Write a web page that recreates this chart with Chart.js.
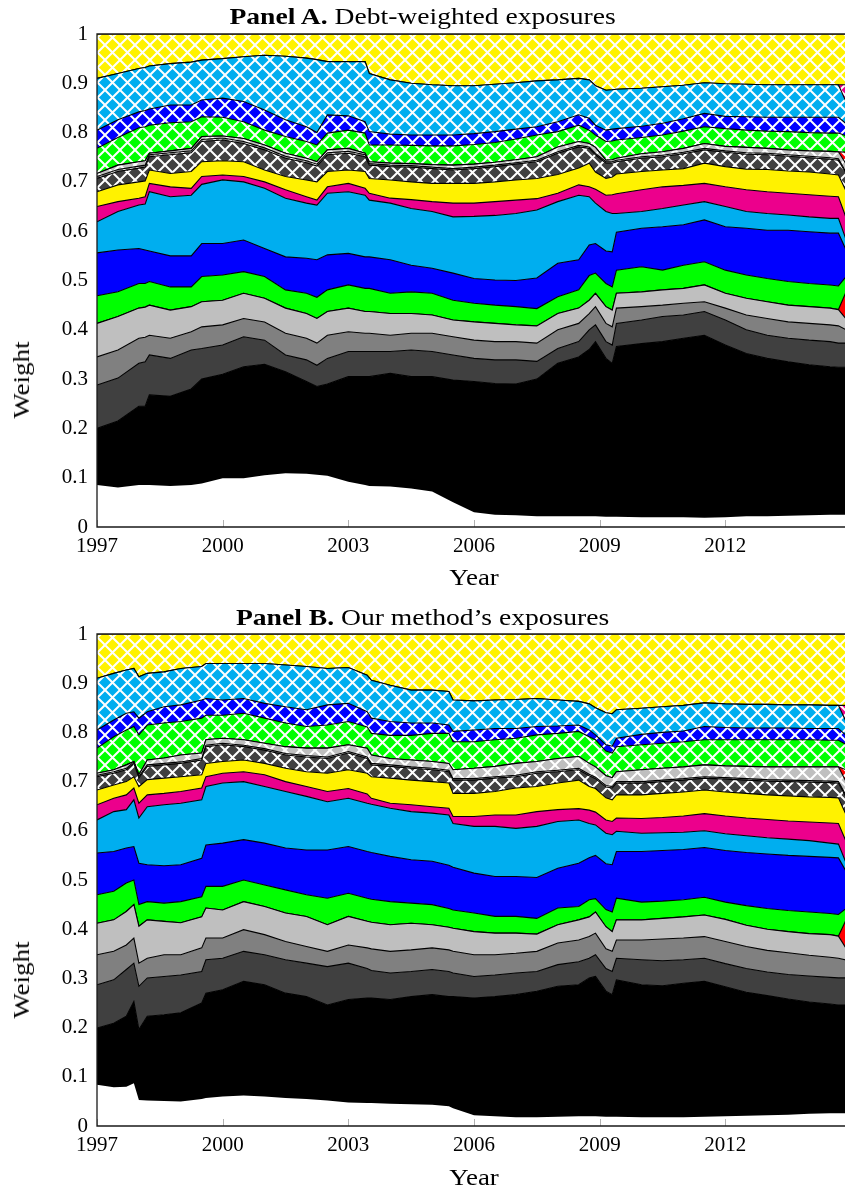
<!DOCTYPE html>
<html>
<head>
<meta charset="utf-8">
<script src="https://cdn.jsdelivr.net/npm/chart.js@4.4.1/dist/chart.umd.min.js"></script>
<style>
  html, body { margin:0; padding:0; background:#fff; width:845px; height:1192px; overflow:hidden; position:relative; font-family:"Liberation Serif", "DejaVu Serif", serif; color:#000; }
  canvas { position:absolute; left:0; }
  .ttl { position:absolute; left:0; width:845px; text-align:center; font-size:23px; line-height:1; white-space:nowrap; transform:scaleX(1.2); transform-origin:422px 50%; }
  .xl { position:absolute; left:97px; width:754px; text-align:center; font-size:23px; line-height:1; transform:scaleX(1.17); }
  .yl { position:absolute; width:90px; height:24px; text-align:center; font-size:23px; line-height:24px; transform:rotate(-90deg) scaleX(1.17); }
</style>
</head>
<body>
<canvas id="panelA" width="852" height="596" style="top:0"></canvas>
<canvas id="panelB" width="852" height="592" style="top:600px"></canvas>
<div class="ttl" style="top:5px"><b>Panel A.</b> Debt-weighted exposures</div>
<div class="xl" style="top:566px">Year</div>
<div class="yl" style="left:-23px; top:368px">Weight</div>
<div class="ttl" style="top:606px"><b>Panel B.</b> Our method’s exposures</div>
<div class="xl" style="top:1166px">Year</div>
<div class="yl" style="left:-23px; top:968px">Weight</div>
<script>
// Axis ticks
const yearTicks = [1997, 2000, 2003, 2006, 2009, 2012];
const weightTicks = [0, 0.1, 0.2, 0.3, 0.4, 0.5, 0.6, 0.7, 0.8, 0.9, 1];
const weightLabels = ['0', '0.1', '0.2', '0.3', '0.4', '0.5', '0.6', '0.7', '0.8', '0.9', '1'];

// ---- Panel A: debt-weighted exposures (upper edge of each cumulative band) ----
const yearsA = [1997.0,1997.5,1998.0,1998.15,1998.25,1998.75,1999.25,1999.5,2000.0,2000.5,2001.0,2001.5,2002.0,2002.25,2002.5,2003.0,2003.4,2003.5,2004.0,2004.5,2005.0,2005.5,2006.0,2006.5,2007.0,2007.5,2008.0,2008.5,2008.75,2008.9,2009.15,2009.3,2009.4,2010.0,2010.5,2011.0,2011.5,2012.0,2012.5,2013.0,2013.5,2014.0,2014.5,2014.7,2015.0];
const whiteA = [0.085,0.080,0.085,0.085,0.085,0.083,0.085,0.088,0.099,0.099,0.105,0.109,0.108,0.106,0.104,0.092,0.085,0.083,0.082,0.078,0.072,0.050,0.030,0.025,0.024,0.022,0.022,0.022,0.022,0.022,0.021,0.021,0.021,0.020,0.020,0.020,0.019,0.020,0.022,0.022,0.023,0.024,0.025,0.025,0.025];
const blackA = [0.200,0.215,0.245,0.245,0.268,0.265,0.280,0.300,0.310,0.325,0.330,0.315,0.295,0.285,0.290,0.305,0.305,0.305,0.312,0.305,0.305,0.298,0.295,0.291,0.290,0.300,0.332,0.345,0.360,0.376,0.342,0.332,0.366,0.372,0.376,0.383,0.389,0.369,0.352,0.342,0.335,0.329,0.325,0.324,0.324];
const dkgrayA = [0.288,0.302,0.332,0.335,0.349,0.342,0.359,0.362,0.369,0.386,0.379,0.349,0.339,0.328,0.342,0.356,0.356,0.356,0.356,0.359,0.356,0.349,0.342,0.339,0.339,0.336,0.362,0.376,0.400,0.410,0.376,0.369,0.413,0.420,0.427,0.430,0.437,0.420,0.400,0.389,0.383,0.379,0.376,0.373,0.373];
const grayA = [0.345,0.359,0.383,0.385,0.389,0.383,0.396,0.406,0.410,0.423,0.416,0.393,0.383,0.373,0.389,0.396,0.393,0.393,0.389,0.393,0.393,0.386,0.379,0.376,0.376,0.373,0.400,0.413,0.433,0.447,0.413,0.406,0.444,0.447,0.450,0.454,0.457,0.444,0.430,0.423,0.416,0.413,0.410,0.408,0.395];
const ltgrayA = [0.413,0.427,0.444,0.446,0.450,0.440,0.447,0.457,0.460,0.474,0.464,0.444,0.433,0.423,0.437,0.444,0.437,0.437,0.433,0.433,0.430,0.420,0.416,0.413,0.410,0.408,0.433,0.444,0.460,0.474,0.447,0.440,0.474,0.477,0.481,0.484,0.491,0.474,0.464,0.457,0.450,0.447,0.444,0.441,0.410];
const redA = [0.413,0.427,0.444,0.446,0.450,0.440,0.447,0.457,0.460,0.474,0.464,0.444,0.433,0.423,0.437,0.444,0.437,0.437,0.433,0.433,0.430,0.420,0.416,0.413,0.410,0.408,0.433,0.444,0.460,0.474,0.447,0.440,0.474,0.477,0.481,0.484,0.491,0.474,0.464,0.457,0.450,0.447,0.444,0.441,0.500];
const greenA = [0.469,0.477,0.494,0.494,0.498,0.487,0.487,0.508,0.511,0.518,0.508,0.481,0.474,0.466,0.481,0.491,0.484,0.484,0.474,0.477,0.474,0.460,0.454,0.450,0.447,0.443,0.467,0.481,0.510,0.515,0.494,0.487,0.521,0.528,0.521,0.531,0.538,0.521,0.511,0.504,0.498,0.494,0.491,0.489,0.520];
const blueA = [0.556,0.562,0.565,0.562,0.560,0.550,0.550,0.575,0.575,0.582,0.565,0.548,0.545,0.542,0.552,0.555,0.548,0.548,0.542,0.531,0.525,0.515,0.504,0.501,0.500,0.505,0.535,0.542,0.572,0.575,0.560,0.558,0.598,0.606,0.609,0.613,0.623,0.609,0.606,0.602,0.602,0.599,0.596,0.596,0.540];
const cyanA = [0.619,0.640,0.653,0.655,0.680,0.670,0.673,0.695,0.704,0.700,0.687,0.667,0.657,0.653,0.677,0.680,0.673,0.663,0.657,0.646,0.640,0.629,0.630,0.632,0.636,0.643,0.660,0.673,0.670,0.657,0.640,0.636,0.636,0.640,0.646,0.653,0.660,0.650,0.640,0.636,0.633,0.629,0.626,0.626,0.555];
const magentaA = [0.650,0.660,0.667,0.670,0.697,0.690,0.687,0.711,0.714,0.711,0.700,0.684,0.670,0.663,0.690,0.697,0.687,0.677,0.667,0.664,0.660,0.657,0.657,0.660,0.663,0.666,0.677,0.694,0.690,0.685,0.673,0.674,0.676,0.684,0.690,0.693,0.697,0.690,0.684,0.680,0.677,0.674,0.671,0.670,0.600];
const yellowA = [0.680,0.694,0.700,0.702,0.724,0.717,0.721,0.741,0.743,0.741,0.724,0.711,0.704,0.700,0.721,0.724,0.721,0.707,0.704,0.700,0.697,0.697,0.697,0.700,0.704,0.707,0.715,0.728,0.738,0.720,0.707,0.710,0.716,0.721,0.724,0.727,0.738,0.731,0.726,0.725,0.722,0.720,0.716,0.714,0.660];
const dkgrayHA = [0.707,0.721,0.728,0.730,0.751,0.755,0.759,0.782,0.785,0.778,0.765,0.748,0.739,0.732,0.755,0.758,0.751,0.734,0.731,0.730,0.727,0.724,0.727,0.731,0.736,0.741,0.758,0.771,0.768,0.755,0.738,0.738,0.741,0.748,0.751,0.757,0.765,0.760,0.756,0.755,0.752,0.749,0.746,0.744,0.700];
const grayHA = [0.711,0.725,0.732,0.734,0.755,0.759,0.763,0.786,0.789,0.782,0.769,0.752,0.743,0.736,0.759,0.762,0.755,0.737,0.734,0.733,0.730,0.727,0.730,0.734,0.739,0.744,0.761,0.774,0.771,0.758,0.741,0.741,0.744,0.751,0.754,0.760,0.768,0.763,0.759,0.758,0.755,0.752,0.749,0.747,0.702];
const ltgrayHA = [0.717,0.734,0.741,0.743,0.758,0.763,0.768,0.792,0.793,0.788,0.775,0.758,0.748,0.741,0.765,0.768,0.758,0.741,0.738,0.737,0.735,0.734,0.736,0.740,0.745,0.751,0.771,0.782,0.778,0.770,0.744,0.745,0.748,0.757,0.761,0.768,0.778,0.772,0.770,0.768,0.765,0.763,0.762,0.761,0.720];
const redHA = [0.717,0.734,0.741,0.743,0.758,0.763,0.768,0.792,0.793,0.788,0.775,0.758,0.748,0.741,0.765,0.768,0.758,0.741,0.738,0.737,0.735,0.734,0.736,0.740,0.745,0.751,0.771,0.782,0.778,0.770,0.744,0.745,0.748,0.757,0.761,0.768,0.778,0.772,0.770,0.768,0.765,0.763,0.762,0.761,0.760];
const greenHA = [0.768,0.790,0.810,0.812,0.815,0.820,0.822,0.832,0.831,0.822,0.805,0.792,0.782,0.775,0.799,0.805,0.799,0.775,0.775,0.774,0.773,0.773,0.776,0.780,0.787,0.795,0.802,0.815,0.805,0.795,0.782,0.783,0.785,0.790,0.795,0.803,0.812,0.808,0.805,0.803,0.802,0.800,0.799,0.799,0.790];
const blueHA = [0.805,0.826,0.842,0.845,0.848,0.856,0.856,0.866,0.870,0.863,0.846,0.826,0.812,0.800,0.836,0.834,0.822,0.802,0.797,0.795,0.795,0.795,0.798,0.802,0.807,0.812,0.822,0.836,0.829,0.815,0.805,0.807,0.808,0.813,0.819,0.828,0.839,0.833,0.832,0.831,0.831,0.831,0.831,0.831,0.810];
const cyanHA = [0.910,0.920,0.930,0.932,0.935,0.940,0.943,0.947,0.950,0.954,0.957,0.955,0.951,0.948,0.944,0.944,0.944,0.920,0.907,0.900,0.897,0.895,0.895,0.898,0.901,0.905,0.907,0.910,0.907,0.895,0.886,0.887,0.888,0.890,0.893,0.896,0.901,0.899,0.898,0.897,0.897,0.897,0.897,0.897,0.840];
const magentaHA = [0.910,0.920,0.930,0.932,0.935,0.940,0.943,0.947,0.950,0.954,0.957,0.955,0.951,0.948,0.944,0.944,0.944,0.920,0.907,0.900,0.897,0.895,0.895,0.898,0.901,0.905,0.907,0.910,0.907,0.895,0.886,0.887,0.888,0.890,0.893,0.896,0.901,0.899,0.898,0.897,0.897,0.897,0.897,0.897,0.897];
const yellowHA = [1,1,1,1,1,1,1,1,1,1,1,1,1,1,1,1,1,1,1,1,1,1,1,1,1,1,1,1,1,1,1,1,1,1,1,1,1,1,1,1,1,1,1,1,1];

// ---- Panel B: our method's exposures (upper edge of each cumulative band) ----
const yearsB = [1997.0,1997.4,1997.7,1997.88,1998.0,1998.2,1998.6,1999.0,1999.5,1999.6,2000.0,2000.5,2001.0,2001.5,2002.0,2002.5,2003.0,2003.45,2003.55,2004.0,2004.5,2005.0,2005.4,2005.5,2006.0,2006.5,2007.0,2007.5,2008.0,2008.5,2008.75,2008.9,2009.15,2009.3,2009.4,2010.0,2010.5,2011.0,2011.5,2012.0,2012.5,2013.0,2013.5,2014.0,2014.5,2014.7,2015.0];
const whiteB = [0.084,0.079,0.080,0.087,0.053,0.052,0.051,0.050,0.055,0.057,0.060,0.062,0.060,0.057,0.055,0.052,0.048,0.047,0.047,0.045,0.044,0.043,0.040,0.036,0.022,0.020,0.018,0.018,0.019,0.020,0.020,0.020,0.019,0.019,0.019,0.018,0.018,0.018,0.019,0.020,0.021,0.022,0.023,0.025,0.026,0.026,0.026];
const blackB = [0.199,0.209,0.223,0.253,0.196,0.223,0.226,0.230,0.250,0.270,0.277,0.294,0.287,0.270,0.263,0.246,0.257,0.260,0.260,0.257,0.263,0.267,0.263,0.263,0.260,0.263,0.267,0.274,0.284,0.287,0.301,0.304,0.274,0.267,0.297,0.287,0.285,0.290,0.294,0.283,0.272,0.265,0.258,0.252,0.248,0.246,0.246];
const dkgrayB = [0.287,0.297,0.318,0.331,0.284,0.301,0.304,0.307,0.314,0.338,0.341,0.355,0.348,0.338,0.331,0.324,0.331,0.320,0.316,0.311,0.314,0.318,0.314,0.311,0.304,0.307,0.311,0.314,0.328,0.334,0.341,0.348,0.320,0.314,0.341,0.338,0.336,0.338,0.341,0.330,0.320,0.313,0.308,0.305,0.302,0.301,0.301];
const grayB = [0.348,0.355,0.368,0.382,0.331,0.341,0.348,0.348,0.362,0.382,0.382,0.399,0.389,0.375,0.365,0.355,0.368,0.362,0.360,0.355,0.358,0.362,0.358,0.355,0.348,0.348,0.351,0.355,0.372,0.378,0.385,0.392,0.360,0.355,0.378,0.378,0.380,0.382,0.385,0.375,0.365,0.357,0.352,0.347,0.343,0.341,0.335];
const ltgrayB = [0.412,0.419,0.436,0.450,0.406,0.419,0.416,0.413,0.425,0.443,0.439,0.456,0.446,0.433,0.426,0.409,0.426,0.416,0.414,0.409,0.412,0.409,0.404,0.402,0.395,0.392,0.392,0.390,0.409,0.419,0.425,0.435,0.405,0.395,0.419,0.419,0.422,0.425,0.429,0.420,0.408,0.400,0.395,0.391,0.389,0.386,0.345];
const redB = [0.412,0.419,0.436,0.450,0.406,0.419,0.416,0.413,0.425,0.443,0.439,0.456,0.446,0.433,0.426,0.409,0.426,0.416,0.414,0.409,0.412,0.409,0.404,0.402,0.395,0.392,0.392,0.390,0.409,0.419,0.425,0.435,0.405,0.395,0.419,0.419,0.422,0.425,0.429,0.420,0.408,0.400,0.395,0.391,0.389,0.386,0.440];
const greenB = [0.470,0.477,0.494,0.500,0.450,0.456,0.453,0.456,0.466,0.487,0.487,0.500,0.490,0.480,0.470,0.463,0.473,0.463,0.461,0.456,0.453,0.450,0.442,0.439,0.433,0.426,0.426,0.422,0.443,0.446,0.460,0.462,0.440,0.435,0.463,0.455,0.457,0.460,0.465,0.455,0.448,0.442,0.438,0.435,0.432,0.430,0.450];
const blueB = [0.555,0.558,0.565,0.568,0.534,0.531,0.529,0.531,0.544,0.571,0.575,0.582,0.575,0.565,0.561,0.561,0.568,0.558,0.556,0.548,0.541,0.538,0.530,0.526,0.514,0.507,0.507,0.505,0.524,0.534,0.545,0.550,0.533,0.531,0.558,0.558,0.560,0.562,0.566,0.560,0.556,0.553,0.550,0.548,0.546,0.545,0.500];
const cyanB = [0.622,0.639,0.643,0.663,0.626,0.649,0.653,0.656,0.663,0.690,0.697,0.700,0.690,0.680,0.670,0.659,0.666,0.656,0.654,0.646,0.639,0.636,0.632,0.615,0.609,0.609,0.605,0.609,0.619,0.622,0.615,0.612,0.595,0.592,0.599,0.595,0.596,0.597,0.600,0.594,0.590,0.586,0.583,0.580,0.575,0.573,0.510];
const magentaB = [0.653,0.666,0.673,0.687,0.656,0.673,0.676,0.680,0.687,0.710,0.717,0.720,0.714,0.700,0.690,0.680,0.686,0.675,0.666,0.656,0.653,0.649,0.646,0.629,0.629,0.632,0.632,0.639,0.643,0.645,0.642,0.638,0.622,0.619,0.626,0.625,0.627,0.630,0.635,0.630,0.626,0.623,0.620,0.618,0.616,0.615,0.555];
const yellowB = [0.683,0.693,0.700,0.710,0.690,0.704,0.707,0.710,0.714,0.737,0.741,0.744,0.737,0.727,0.720,0.717,0.724,0.717,0.710,0.707,0.703,0.700,0.697,0.676,0.676,0.680,0.687,0.690,0.697,0.703,0.690,0.686,0.667,0.663,0.673,0.673,0.676,0.679,0.683,0.679,0.676,0.673,0.671,0.669,0.668,0.667,0.610];
const dkgrayHB = [0.710,0.717,0.724,0.737,0.707,0.731,0.734,0.737,0.744,0.771,0.775,0.771,0.764,0.754,0.750,0.747,0.758,0.747,0.734,0.731,0.727,0.724,0.720,0.703,0.703,0.707,0.710,0.717,0.720,0.724,0.712,0.706,0.689,0.687,0.697,0.697,0.700,0.703,0.707,0.705,0.703,0.701,0.700,0.699,0.698,0.697,0.650];
const grayHB = [0.713,0.720,0.727,0.740,0.710,0.734,0.737,0.740,0.747,0.774,0.778,0.774,0.767,0.757,0.753,0.750,0.761,0.750,0.737,0.734,0.730,0.727,0.723,0.706,0.706,0.710,0.713,0.720,0.723,0.727,0.715,0.709,0.692,0.690,0.700,0.700,0.703,0.706,0.710,0.708,0.706,0.704,0.703,0.702,0.701,0.700,0.653];
const ltgrayHB = [0.717,0.724,0.734,0.741,0.714,0.744,0.748,0.754,0.758,0.785,0.788,0.785,0.778,0.771,0.768,0.768,0.775,0.768,0.754,0.747,0.744,0.741,0.737,0.724,0.727,0.731,0.737,0.741,0.747,0.751,0.737,0.730,0.712,0.708,0.720,0.724,0.727,0.730,0.734,0.732,0.731,0.730,0.730,0.730,0.730,0.730,0.680];
const redHB = [0.717,0.724,0.734,0.741,0.714,0.744,0.748,0.754,0.758,0.785,0.788,0.785,0.778,0.771,0.768,0.768,0.775,0.768,0.754,0.747,0.744,0.741,0.737,0.724,0.727,0.731,0.737,0.741,0.747,0.751,0.737,0.730,0.712,0.708,0.720,0.724,0.727,0.730,0.734,0.732,0.731,0.730,0.730,0.730,0.730,0.730,0.720];
const greenHB = [0.768,0.791,0.805,0.812,0.795,0.815,0.819,0.822,0.829,0.835,0.835,0.839,0.829,0.819,0.812,0.815,0.822,0.811,0.798,0.794,0.794,0.798,0.798,0.781,0.781,0.785,0.788,0.795,0.798,0.802,0.791,0.785,0.762,0.758,0.771,0.775,0.778,0.781,0.785,0.785,0.785,0.785,0.785,0.785,0.784,0.784,0.770];
const blueHB = [0.805,0.825,0.839,0.842,0.829,0.842,0.852,0.856,0.866,0.869,0.866,0.869,0.859,0.852,0.846,0.856,0.859,0.842,0.829,0.822,0.819,0.819,0.815,0.802,0.805,0.808,0.808,0.812,0.813,0.815,0.805,0.795,0.775,0.772,0.788,0.796,0.800,0.803,0.812,0.810,0.809,0.809,0.809,0.808,0.808,0.808,0.785];
const cyanHB = [0.910,0.920,0.927,0.930,0.913,0.920,0.923,0.930,0.934,0.940,0.940,0.940,0.940,0.937,0.934,0.930,0.932,0.916,0.906,0.896,0.886,0.886,0.883,0.866,0.864,0.866,0.867,0.869,0.866,0.863,0.858,0.850,0.840,0.838,0.846,0.849,0.852,0.855,0.860,0.858,0.857,0.857,0.856,0.856,0.855,0.855,0.800];
const magentaHB = [0.910,0.920,0.927,0.930,0.913,0.920,0.923,0.930,0.934,0.940,0.940,0.940,0.940,0.937,0.934,0.930,0.932,0.916,0.906,0.896,0.886,0.886,0.883,0.866,0.864,0.866,0.867,0.869,0.866,0.863,0.858,0.850,0.840,0.838,0.846,0.849,0.852,0.855,0.860,0.858,0.857,0.857,0.856,0.856,0.855,0.855,0.855];
const yellowHB = [1,1,1,1,1,1,1,1,1,1,1,1,1,1,1,1,1,1,1,1,1,1,1,1,1,1,1,1,1,1,1,1,1,1,1,1,1,1,1,1,1,1,1,1,1,1,1];

// Band colours, bottom to top (solid bands, then the cross-hatched bands)
const PALETTE = {
  white: '#ffffff', black: '#000000', dkgray: '#404040', gray: '#808080', ltgray: '#bfbfbf',
  red: '#ff0000', green: '#00ff00', blue: '#0000ff', cyan: '#00aeef', magenta: '#ec008c', yellow: '#fff200'
};

const FONT = '"Liberation Serif", "DejaVu Serif", serif';

// White crosshatch drawn over a solid colour, as a repeating tile
function crosshatch(color) {
  const s = 15;
  const c = document.createElement('canvas');
  c.width = s; c.height = s;
  const g = c.getContext('2d');
  g.fillStyle = color;
  g.fillRect(0, 0, s, s);
  g.strokeStyle = '#ffffff';
  g.lineWidth = 2;
  g.beginPath();
  g.moveTo(-3, -3); g.lineTo(s + 3, s + 3);
  g.moveTo(-3, s + 3); g.lineTo(s + 3, -3);
  g.stroke();
  return g.createPattern(c, 'repeat');
}

// Axis frame (left, top, bottom) on top of the areas, plus inner year ticks beneath them
const framePlugin = {
  id: 'frame',
  beforeDatasetsDraw(chart) {
    const { ctx, chartArea: a, scales } = chart;
    ctx.save();
    ctx.strokeStyle = '#b0b0b0';
    ctx.lineWidth = 1;
    yearTicks.forEach(v => {
      const x = Math.round(scales.x.getPixelForValue(v)) + 0.5;
      ctx.beginPath(); ctx.moveTo(x, a.bottom); ctx.lineTo(x, a.bottom - 7); ctx.stroke();
    });
    ctx.restore();
  },
  afterDatasetsDraw(chart) {
    const { ctx, chartArea: a } = chart;
    ctx.save();
    ctx.strokeStyle = '#1a1a1a';
    ctx.lineWidth = 1.3;
    ctx.beginPath();
    ctx.moveTo(a.right + 2, a.top); ctx.lineTo(a.left, a.top);
    ctx.lineTo(a.left, a.bottom); ctx.lineTo(a.right + 2, a.bottom);
    ctx.stroke();
    ctx.restore();
  }
};

function buildChart(canvasId, years, bands, plotBottom) {
  const canvas = document.getElementById(canvasId);
  const H = canvas.height;
  const datasets = bands.map((b, i) => ({
    label: b.name,
    data: years.map((x, j) => ({ x: x, y: b.values[j] })),
    borderColor: i === 0 ? 'rgba(0,0,0,0)' : '#000000',
    borderWidth: i === 0 ? 0 : 1.1,
    backgroundColor: i === 0 ? 'rgba(0,0,0,0)' : (b.hatch ? crosshatch(PALETTE[b.color]) : PALETTE[b.color]),
    fill: i === 0 ? false : '-1',
    pointRadius: 0,
    tension: 0
  }));
  return new Chart(canvas, {
    type: 'line',
    data: { datasets },
    plugins: [framePlugin],
    options: {
      responsive: false,
      animation: false,
      devicePixelRatio: 1,
      layout: { padding: { top: 34, left: 0, right: 1, bottom: 0 } },
      plugins: { legend: { display: false }, tooltip: { enabled: false }, filler: { propagate: false } },
      scales: {
        x: {
          type: 'linear', min: 1997, max: 2015,
          grid: { display: false, drawTicks: false },
          border: { display: false },
          ticks: {
            padding: 7, color: '#000', maxRotation: 0, autoSkip: false,
            font: { family: FONT, size: 21 },
            callback: (v) => String(v)
          },
          afterBuildTicks: (s) => { s.ticks = yearTicks.map(v => ({ value: v })); },
          afterFit: (s) => { s.height = H - plotBottom; }
        },
        y: {
          type: 'linear', min: 0, max: 1,
          grid: { display: false, drawTicks: false },
          border: { display: false },
          ticks: {
            padding: 9, color: '#000',
            font: { family: FONT, size: 21 },
            callback: (v, i) => weightLabels[i]
          },
          afterBuildTicks: (s) => { s.ticks = weightTicks.map(v => ({ value: v })); },
          afterFit: (s) => { s.width = 97; }
        }
      }
    }
  });
}

function bandList(v) {
  return [
    { name: 'white', color: 'white', hatch: false, values: v[0] },
    { name: 'black', color: 'black', hatch: false, values: v[1] },
    { name: 'dark gray', color: 'dkgray', hatch: false, values: v[2] },
    { name: 'gray', color: 'gray', hatch: false, values: v[3] },
    { name: 'light gray', color: 'ltgray', hatch: false, values: v[4] },
    { name: 'red', color: 'red', hatch: false, values: v[5] },
    { name: 'green', color: 'green', hatch: false, values: v[6] },
    { name: 'blue', color: 'blue', hatch: false, values: v[7] },
    { name: 'cyan', color: 'cyan', hatch: false, values: v[8] },
    { name: 'magenta', color: 'magenta', hatch: false, values: v[9] },
    { name: 'yellow', color: 'yellow', hatch: false, values: v[10] },
    { name: 'dark gray (hatched)', color: 'dkgray', hatch: true, values: v[11] },
    { name: 'gray (hatched)', color: 'gray', hatch: true, values: v[12] },
    { name: 'light gray (hatched)', color: 'ltgray', hatch: true, values: v[13] },
    { name: 'red (hatched)', color: 'red', hatch: true, values: v[14] },
    { name: 'green (hatched)', color: 'green', hatch: true, values: v[15] },
    { name: 'blue (hatched)', color: 'blue', hatch: true, values: v[16] },
    { name: 'cyan (hatched)', color: 'cyan', hatch: true, values: v[17] },
    { name: 'magenta (hatched)', color: 'magenta', hatch: true, values: v[18] },
    { name: 'yellow (hatched)', color: 'yellow', hatch: true, values: v[19] }
  ];
}

buildChart('panelA', yearsA, bandList([
  whiteA, blackA, dkgrayA, grayA, ltgrayA, redA, greenA, blueA, cyanA, magentaA, yellowA,
  dkgrayHA, grayHA, ltgrayHA, redHA, greenHA, blueHA, cyanHA, magentaHA, yellowHA
]), 527);

buildChart('panelB', yearsB, bandList([
  whiteB, blackB, dkgrayB, grayB, ltgrayB, redB, greenB, blueB, cyanB, magentaB, yellowB,
  dkgrayHB, grayHB, ltgrayHB, redHB, greenHB, blueHB, cyanHB, magentaHB, yellowHB
]), 526);
</script>
</body>
</html>
